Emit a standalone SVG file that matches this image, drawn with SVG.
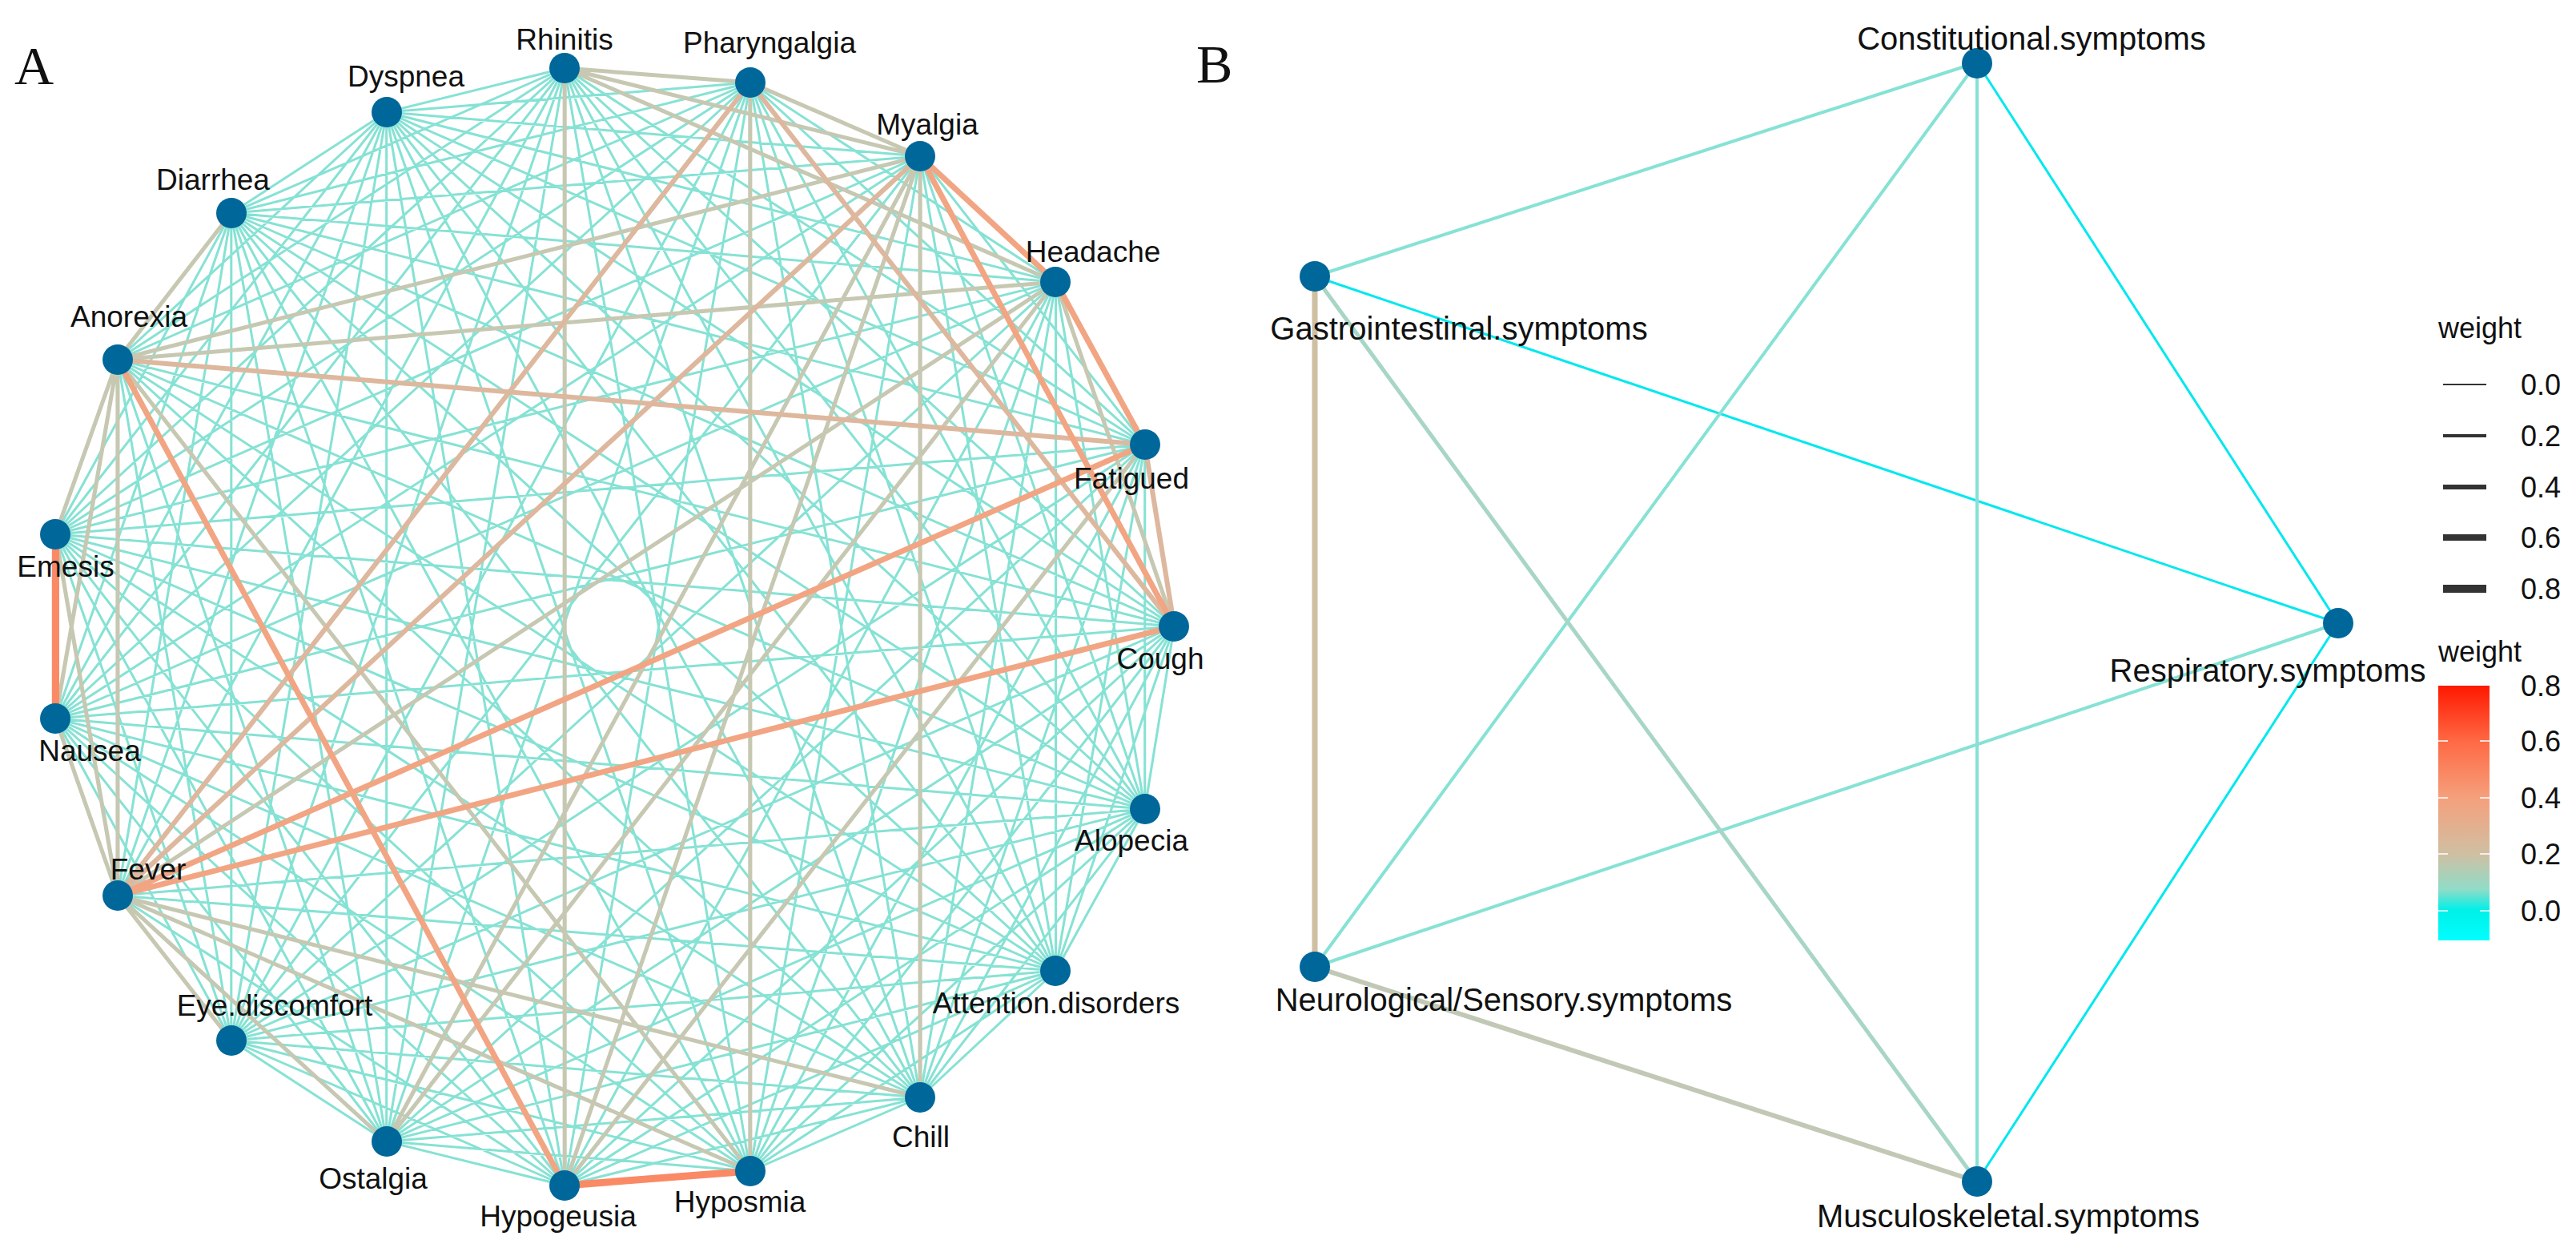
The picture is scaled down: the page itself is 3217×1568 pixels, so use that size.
<svg xmlns="http://www.w3.org/2000/svg" width="3217" height="1568" viewBox="0 0 3217 1568">
<style>
text{font-family:"Liberation Sans",Arial,sans-serif;font-size:37px;fill:#111}
.b{font-size:40px}
.lg{font-size:36px}
.pl{font-family:"Liberation Serif","Times New Roman",serif;font-size:68px}
.n{fill:#00679a}
.e{fill:none;stroke-linecap:round}
.tq{stroke:#86e2d4;stroke-width:3}
.tn{stroke:#c6c8b2;stroke-width:5}
.to{stroke:#ddb89e;stroke-width:6}
.or{stroke:#f2a583;stroke-width:7}
.st{stroke:#fa8a66;stroke-width:9}
.mid{text-anchor:middle}
</style>
<defs>
<linearGradient id="g" x1="0" y1="0" x2="0" y2="1">
<stop offset="0" stop-color="#ff1800"/>
<stop offset="0.22" stop-color="#ff6a45"/>
<stop offset="0.44" stop-color="#f5a07c"/>
<stop offset="0.66" stop-color="#d0bfa2"/>
<stop offset="0.8" stop-color="#90dcc8"/>
<stop offset="0.88" stop-color="#00f0e8"/>
<stop offset="1" stop-color="#00ffff"/>
</linearGradient>
</defs>
<rect width="3217" height="1568" fill="#fff"/>
<text class="pl" x="18" y="105">A</text>
<text class="pl" x="1494" y="103">B</text>
<g id="connectors">
<g transform="scale(1.0205,1)">
<path class="e tq" d="M691,85L1401,555M691,85L1437,782M691,85L1401,1010M691,85L1292,1212M691,85L1126,1370M691,85L918,1462M691,85L473,1425M691,85L283,1299M691,85L144,1118M691,85L68,897M691,85L68,667M691,85L144,449M691,85L283,266M691,85L473,140
M918,103L1292,352M918,103L1401,555M918,103L1401,1010M918,103L1292,1212M918,103L1126,1370M918,103L691,1480M918,103L473,1425M918,103L283,1299M918,103L68,897M918,103L68,667M918,103L144,449M918,103L283,266M918,103L473,140
M1126,195L1401,555M1126,195L1401,1010M1126,195L1292,1212M1126,195L918,1462M1126,195L283,1299M1126,195L68,897M1126,195L68,667M1126,195L283,266M1126,195L473,140
M1292,352L1401,1010M1292,352L1292,1212M1292,352L1126,1370M1292,352L918,1462M1292,352L691,1480M1292,352L283,1299M1292,352L68,897M1292,352L68,667M1292,352L283,266M1292,352L473,140
M1401,555L1401,1010M1401,555L1292,1212M1401,555L1126,1370M1401,555L918,1462M1401,555L473,1425M1401,555L283,1299M1401,555L68,897M1401,555L68,667M1401,555L283,266M1401,555L473,140
M1437,782L1401,1010M1437,782L1292,1212M1437,782L1126,1370M1437,782L918,1462M1437,782L691,1480M1437,782L473,1425M1437,782L283,1299M1437,782L68,897M1437,782L68,667M1437,782L144,449M1437,782L283,266M1437,782L473,140
M1401,1010L1292,1212M1401,1010L1126,1370M1401,1010L918,1462M1401,1010L691,1480M1401,1010L473,1425M1401,1010L283,1299M1401,1010L144,1118M1401,1010L68,897M1401,1010L68,667M1401,1010L144,449M1401,1010L283,266M1401,1010L473,140
M1292,1212L1126,1370M1292,1212L918,1462M1292,1212L691,1480M1292,1212L473,1425M1292,1212L283,1299M1292,1212L144,1118M1292,1212L68,897M1292,1212L68,667M1292,1212L144,449M1292,1212L283,266M1292,1212L473,140
M1126,1370L918,1462M1126,1370L691,1480M1126,1370L473,1425M1126,1370L283,1299M1126,1370L68,897M1126,1370L68,667M1126,1370L144,449M1126,1370L283,266M1126,1370L473,140
M918,1462L473,1425M918,1462L283,1299M918,1462L68,897M918,1462L68,667M918,1462L283,266M918,1462L473,140
M691,1480L473,1425M691,1480L283,1299M691,1480L144,1118M691,1480L68,897M691,1480L68,667M691,1480L283,266M691,1480L473,140
M473,1425L283,1299M473,1425L68,897M473,1425L68,667M473,1425L144,449M473,1425L283,266M473,1425L473,140
M283,1299L68,897M283,1299L68,667M283,1299L144,449M283,1299L283,266M283,1299L473,140
M144,1118L283,266M144,1118L473,140M68,897L283,266M68,897L473,140M68,667L283,266M68,667L473,140M144,449L473,140M283,266L473,140"/>
<path class="e tn" d="M691,85L918,103M691,85L1126,195M918,103L1126,195M144,449L1292,352M144,449L1126,195M691,85L691,1480M918,103L918,1462M1126,195L1126,1370M1292,352L144,1118M144,1118L1126,1370M144,1118L918,1462M144,1118L283,1299M144,1118L473,1425M144,449L68,667M144,449L68,897M144,449L144,1118M283,266L144,449M68,667L144,1118M68,897L144,1118M1126,195L691,1480M1126,195L473,1425M1292,352L473,1425M1401,555L691,1480M144,449L918,1462M691,85L1292,352M1292,352L1437,782"/>
<path class="e to" d="M144,449L1401,555M918,103L144,1118M1126,195L144,1118M918,103L1437,782M1401,555L1437,782"/>
<path class="e or" d="M144,1118L1401,555M144,1118L1437,782M144,449L691,1480M1126,195L1292,352M1292,352L1401,555M1126,195L1437,782"/>
<path class="e st" d="M68,667L68,897M691,1480L918,1462"/>
</g>
<path class="e" stroke="#00e8ee" stroke-width="3" d="M2469,78L2920,778M1642,345L2920,778M2920,778L2469,1475"/>
<path class="e" stroke="#86e2d4" stroke-width="4" d="M2469,78L1642,345M2469,78L1642,1207M2469,78L2469,1475M1642,1207L2920,778"/>
<path class="e" stroke="#a8d6c6" stroke-width="5" d="M1642,345L2469,1475"/>
<path class="e" stroke="#c1c9b6" stroke-width="6" d="M1642,1207L2469,1475"/>
<path class="e" stroke="#cfbfa3" stroke-width="7" d="M1642,345L1642,1207"/>
</g>
<g id="rhinitis"><circle class="n" cx="705" cy="85" r="19"/><text class="mid" x="705" y="62">Rhinitis</text></g>
<g id="pharyngalgia"><circle class="n" cx="937" cy="103" r="19"/><text class="mid" x="961" y="66">Pharyngalgia</text></g>
<g id="myalgia"><circle class="n" cx="1149" cy="195" r="19"/><text class="mid" x="1158" y="168">Myalgia</text></g>
<g id="headache"><circle class="n" cx="1318" cy="352" r="19"/><text class="mid" x="1365" y="327">Headache</text></g>
<g id="fatigued"><circle class="n" cx="1430" cy="555" r="19"/><text class="mid" x="1413" y="610">Fatigued</text></g>
<g id="cough"><circle class="n" cx="1466" cy="782" r="19"/><text class="mid" x="1449" y="835">Cough</text></g>
<g id="alopecia"><circle class="n" cx="1430" cy="1010" r="19"/><text class="mid" x="1413" y="1062">Alopecia</text></g>
<g id="attention"><circle class="n" cx="1318" cy="1212" r="19"/><text class="mid" x="1319" y="1265">Attention.disorders</text></g>
<g id="chill"><circle class="n" cx="1149" cy="1370" r="19"/><text class="mid" x="1150" y="1432">Chill</text></g>
<g id="hyposmia"><circle class="n" cx="937" cy="1462" r="19"/><text class="mid" x="924" y="1513">Hyposmia</text></g>
<g id="hypogeusia"><circle class="n" cx="705" cy="1480" r="19"/><text class="mid" x="697" y="1531">Hypogeusia</text></g>
<g id="ostalgia"><circle class="n" cx="483" cy="1425" r="19"/><text class="mid" x="466" y="1484">Ostalgia</text></g>
<g id="eye"><circle class="n" cx="289" cy="1299" r="19"/><text class="mid" x="343" y="1268">Eye.discomfort</text></g>
<g id="fever"><circle class="n" cx="147" cy="1118" r="19"/><text class="mid" x="185" y="1098">Fever</text></g>
<g id="nausea"><circle class="n" cx="69" cy="897" r="19"/><text class="mid" x="112" y="950">Nausea</text></g>
<g id="emesis"><circle class="n" cx="69" cy="667" r="19"/><text class="mid" x="82" y="720">Emesis</text></g>
<g id="anorexia"><circle class="n" cx="147" cy="449" r="19"/><text class="mid" x="161" y="408">Anorexia</text></g>
<g id="diarrhea"><circle class="n" cx="289" cy="266" r="19"/><text class="mid" x="266" y="237">Diarrhea</text></g>
<g id="dyspnea"><circle class="n" cx="483" cy="140" r="19"/><text class="mid" x="507" y="108">Dyspnea</text></g>
<g id="constitutional"><circle class="n" cx="2469" cy="79" r="19"/><text class="mid b" x="2537" y="62">Constitutional.symptoms</text></g>
<g id="gastro"><circle class="n" cx="1642" cy="345" r="19"/><text class="mid b" x="1822" y="424">Gastrointestinal.symptoms</text></g>
<g id="respiratory"><circle class="n" cx="2920" cy="778" r="19"/><text class="mid b" x="2832" y="851">Respiratory.symptoms</text></g>
<g id="neuro"><circle class="n" cx="1642" cy="1207" r="19"/><text class="mid b" x="1878" y="1262">Neurological/Sensory.symptoms</text></g>
<g id="musculo"><circle class="n" cx="2469" cy="1475" r="19"/><text class="mid b" x="2508" y="1532">Musculoskeletal.symptoms</text></g>
<g id="legend">
<text class="lg" x="3045" y="422">weight</text>
<path fill="none" stroke="#333" d="M3051,480H3105" stroke-width="2"/>
<path fill="none" stroke="#333" d="M3051,544H3105" stroke-width="4"/>
<path fill="none" stroke="#333" d="M3051,608H3105" stroke-width="6"/>
<path fill="none" stroke="#333" d="M3051,671H3105" stroke-width="8"/>
<path fill="none" stroke="#333" d="M3051,735H3105" stroke-width="10"/>
<text class="lg" x="3148" y="493">0.0</text><text class="lg" x="3148" y="557">0.2</text><text class="lg" x="3148" y="621">0.4</text><text class="lg" x="3148" y="684">0.6</text><text class="lg" x="3148" y="748">0.8</text>
<text class="lg" x="3045" y="826">weight</text>
<rect x="3045" y="856" width="64" height="318" fill="url(#g)"/>
<path stroke="#fff" stroke-width="1.5" d="M3045,925h12M3097,925h12M3045,996h12M3097,996h12M3045,1066h12M3097,1066h12M3045,1137h12M3097,1137h12"/>
<text class="lg" x="3148" y="869">0.8</text><text class="lg" x="3148" y="938">0.6</text><text class="lg" x="3148" y="1009">0.4</text><text class="lg" x="3148" y="1079">0.2</text><text class="lg" x="3148" y="1150">0.0</text>
</g>
</svg>
